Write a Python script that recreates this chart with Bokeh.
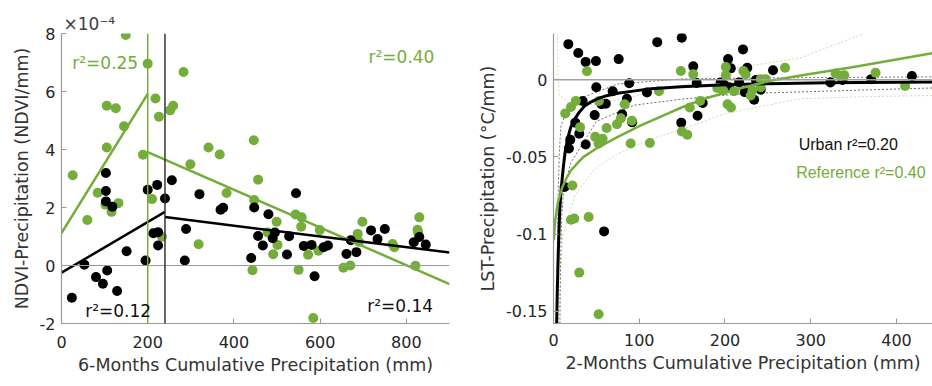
from bokeh.plotting import figure
from bokeh.layouts import row
from bokeh.models import FixedTicker, CustomJSTickFormatter, Span, Label
from bokeh.embed import file_html
from bokeh.resources import INLINE

# ---------------- data: left panel (y in units of 1e-4 NDVI/mm) ----------------
ref6_x = [26, 149, 200, 60, 84, 105, 105, 126, 145, 102, 116, 132, 189, 210, 218, 226,
          252, 259, 283, 299, 233, 318, 341, 367, 383, 446, 456, 447, 443, 478, 499, 501,
          491, 543, 557, 556, 550, 572, 584, 599, 596, 654, 670, 687, 698, 690, 768, 772,
          821, 826, 830, 827]
ref6_y = [3.11, 7.95, 6.96, 1.57, 2.51, 4.07, 5.51, 5.42, 4.80, 2.10, 1.85, 2.15, 3.82, 2.29,
          5.76, 5.13, 5.35, 5.51, 6.67, 3.49, 0.99, 0.73, 4.07, 3.83, 2.50, 4.32, 2.96, 2.26,
          -0.16, 1.14, 1.51, 0.71, 0.39, 1.76, 1.66, 1.34, -0.15, 0.37, -1.81, 1.22, 0.51,
          -0.08, 0.00, 1.09, 1.51, 0.82, 0.74, 0.63, -0.01, 1.23, 1.66, 1.14]
urb6_x = [24, 53, 80, 96, 106, 129, 103, 103, 103, 118, 151, 195, 200, 222, 213, 224, 224,
          240, 256, 289, 286, 320, 369, 375, 447, 440, 456, 467, 480, 490, 495, 523, 528,
          544, 562, 580, 587, 608, 618, 661, 671, 684, 718, 733, 750, 817, 830, 845]
urb6_y = [-1.11, 0.03, -0.40, -0.63, -0.17, -0.88, 3.19, 2.57, 2.21, 2.03, 0.49, 0.17, 2.61,
          2.78, 1.11, 1.15, 0.69, 2.31, 2.94, 1.26, 0.17, 2.46, 1.92, 1.99, 2.00, 0.26, 1.02,
          0.69, 1.77, 0.94, 1.14, 0.38, 1.01, 2.49, 0.67, 0.71, -0.37, 0.63, 0.69, 0.40, 0.87,
          0.46, 1.21, 0.91, 1.26, 0.80, 0.98, 0.72]
# segmented fits (breakpoints)
ref_fit1_x, ref_fit1_y = [0, 200], [1.12, 5.92]
ref_fit2_x, ref_fit2_y = [200, 900], [3.91, -0.64]
urb_fit1_x, urb_fit1_y = [0, 240], [-0.25, 1.85]
urb_fit2_x, urb_fit2_y = [240, 900], [1.67, 0.45]
ref_break, urb_break = 200, 240
left_xticks = [0, 200, 400, 600, 800]
left_yticks = [-2, 0, 2, 4, 6, 8]

# ---------------- data: right panel ----------------
urb2_x = [17.3, 28.9, 37.5, 49.5, 76, 121, 149.6, 49.9, 69, 88.3, 109, 34, 56, 61, 85.6, 48,
          80, 91.8, 25.4, 30, 19.6, 18, 37.5, 13, 59, 149, 163, 221, 203.6, 206.8, 226, 256,
          167, 195, 199, 216.5, 236, 223, 241.7, 234, 205, 174, 168, 323, 337, 370.6, 418]
urb2_y = [0.0231, 0.0174, 0.0116, 0.0121, 0.0134, 0.0244, 0.0273, -0.0049, -0.0074, -0.0023,
          -0.0083, -0.0138, -0.0159, -0.0155, -0.0123, -0.0229, -0.0223, -0.0276, -0.0278,
          -0.0350, -0.0388, -0.0445, -0.0420, -0.0695, -0.0983, -0.0278, 0.0087, 0.0197,
          0.0134, 0.0074, 0.0078, 0.0062, -0.0021, -0.0017, -0.0032, -0.0017, -0.0002,
          -0.0080, -0.0064, -0.0129, -0.0049, -0.0150, -0.0233, -0.0017, -0.0002, 0.0004, 0.0024]
ref2_x = [39, 13.7, 20.4, 26, 53, 83, 123, 31, 62, 74, 78.6, 91.4, 48.7, 57.3, 52.6, 90, 112.4,
          22, 20.4, 24.2, 41, 30, 52.6, 148.5, 149.7, 156, 159, 163, 171, 201, 201, 221.5, 224,
          270, 191, 198, 210.6, 230, 232, 241.7, 241.7, 247.5, 203, 207, 329, 335, 339, 375.6, 410]
ref2_y = [0.0055, -0.0218, -0.0176, -0.0138, -0.0138, -0.0159, -0.0074, -0.0307, -0.0313,
          -0.0288, -0.0250, -0.0265, -0.0370, -0.0383, -0.0413, -0.0413, -0.0410, -0.0685,
          -0.0907, -0.0900, -0.0890, -0.1250, -0.1520, 0.0057, -0.0335, -0.0356, -0.0180,
          0.0036, -0.0138, 0.0083, 0.0030, 0.0057, 0.0036, 0.0078, -0.0053, -0.0070, -0.0074,
          -0.0102, -0.0070, -0.0049, 0.0004, 0.0004, -0.0159, -0.0180, 0.0040, 0.0025, 0.0030,
          0.0046, -0.0040]
# fitted curves
urb_curve_x = [3.7, 4.5, 5.6, 7.0, 8.5, 9.9, 11.4, 13.5, 16.5, 20, 24.2, 30, 36, 44, 51.5, 62,
               75, 95, 113.6, 148.5, 200, 250, 320, 442]
urb_curve_y = [-0.158, -0.135, -0.112, -0.088, -0.074, -0.0655, -0.057, -0.047, -0.038, -0.031,
               -0.026, -0.021, -0.0172, -0.0143, -0.0123, -0.0103, -0.0087, -0.0072, -0.0058,
               -0.0045, -0.0032, -0.0025, -0.0019, -0.0014]
ref_curve_x = [0.3, 2, 5, 10, 15, 20, 28, 35, 50, 75, 100, 135, 150, 175, 215, 253, 290, 350, 442]
ref_curve_y = [-0.104, -0.091, -0.080, -0.070, -0.064, -0.059, -0.054, -0.050, -0.0445, -0.037,
               -0.030, -0.0215, -0.0178, -0.0125, -0.006, -0.0006, 0.003, 0.0083, 0.0172]
# confidence bands (dotted)
urb_up_x = [3.9, 4.5, 5.5, 7, 8.7, 15, 36, 75, 150, 250, 442]
urb_up_y = [-0.158, -0.11, -0.07, -0.045, -0.030, -0.020, -0.011, -0.0027, 0.0005, 0.0012, 0.0019]
urb_lo_x = [7.5, 8.2, 9.5, 12, 20.4, 50, 94, 150, 220, 442]
urb_lo_y = [-0.158, -0.12, -0.09, -0.07, -0.0536, -0.027, -0.0165, -0.0125, -0.009, -0.0053]
ref_up_x = [4.6, 5.2, 6.8, 20.4, 50, 100, 150, 215, 288, 362]
ref_up_y = [0.03, 0.0, -0.010, -0.0165, -0.016, -0.010, -0.004, 0.0078, 0.0142, 0.030]
ref_lo_x = [6, 8, 10.7, 25, 47.6, 74.8, 110, 148.5, 200, 288, 360, 442]
ref_lo_y = [-0.158, -0.125, -0.101, -0.075, -0.058, -0.048, -0.039, -0.0324, -0.022, -0.0123,
            -0.011, -0.0102]
right_xticks = [0, 100, 200, 300, 400]
right_yticks = [-0.15, -0.1, -0.05, 0]

GREEN = "#74AD3A"
BLACK = "#000000"
TXT = "#262626"
AX = "#9a9a9a"
FONT = "DejaVu Sans"


def style(p, xt, yt, xlabel, ylabel, xstand, ystand):
    p.xaxis.ticker = FixedTicker(ticks=xt)
    p.yaxis.ticker = FixedTicker(ticks=yt)
    p.xaxis.axis_label = xlabel
    p.yaxis.axis_label = ylabel
    p.xaxis.major_label_standoff = xstand
    p.yaxis.major_label_standoff = ystand
    p.xaxis.axis_label_standoff = 4
    p.yaxis.axis_label_standoff = 5
    for ax in p.axis:
        ax.formatter = CustomJSTickFormatter(code="return tick.toString();")
        ax.major_tick_in = 5
        ax.major_tick_out = 0
        ax.minor_tick_line_color = None
        ax.axis_line_color = AX
        ax.axis_line_width = 1.2
        ax.major_tick_line_color = AX
        ax.major_label_text_font = FONT
        ax.major_label_text_font_size = "16px"
        ax.major_label_text_color = TXT
        ax.axis_label_text_font = FONT
        ax.axis_label_text_font_size = "17.5px"
        ax.axis_label_text_font_style = "normal"
        ax.axis_label_text_color = "#333333"
    p.grid.visible = False
    p.outline_line_color = None


# ---------------- left figure ----------------
p1 = figure(width=466, height=386, x_range=(0, 900), y_range=(-2, 8),
            output_backend="svg", toolbar_location=None,
            min_border_left=61, min_border_right=17, min_border_top=33, min_border_bottom=60)
style(p1, left_xticks, left_yticks, "6-Months Cumulative Precipitation (mm)",
      "NDVI-Precipitation (NDVI/mm)", 12, 6)
p1.title.text = "×10⁻⁴"
p1.title.align = "left"
p1.title.offset = 2
p1.title.standoff = 0
p1.title.text_font = FONT
p1.title.text_font_size = "17px"
p1.title.text_font_style = "normal"
p1.title.text_color = "#404040"

p1.add_layout(Span(location=0, dimension="width", line_color="#9a9a9a", line_width=1))
p1.add_layout(Span(location=ref_break, dimension="height", line_color=GREEN, line_width=1.5))
p1.add_layout(Span(location=urb_break, dimension="height", line_color="#333333", line_width=1.5))

p1.scatter(ref6_x, ref6_y, size=10, color=GREEN, line_color=None)
p1.scatter(urb6_x, urb6_y, size=10, color=BLACK, line_color=None)
p1.line(ref_fit1_x, ref_fit1_y, line_color=GREEN, line_width=2.5)
p1.line(ref_fit2_x, ref_fit2_y, line_color=GREEN, line_width=2.5)
p1.line(urb_fit1_x, urb_fit1_y, line_color=BLACK, line_width=2.5)
p1.line(urb_fit2_x, urb_fit2_y, line_color=BLACK, line_width=2.5)

for (x, y, t, c, al) in [(25, 6.98, "r²=0.25", GREEN, "left"),
                         (865, 7.18, "r²=0.40", GREEN, "right"),
                         (55, -1.56, "r²=0.12", "#111111", "left"),
                         (862, -1.39, "r²=0.14", "#111111", "right")]:
    p1.add_layout(Label(x=x, y=y, text=t, text_color=c, text_align=al, text_baseline="middle",
                        text_font=FONT, text_font_size="17px"))

# ---------------- right figure ----------------
p2 = figure(width=466, height=386, x_range=(0, 442), y_range=(-0.158, 0.03),
            output_backend="svg", toolbar_location=None,
            min_border_left=87, min_border_right=0, min_border_top=28, min_border_bottom=63)
style(p2, right_xticks, right_yticks, "2-Months Cumulative Precipitation (mm)",
      "LST-Precipitation (°C/mm)", 10, 6)

p2.add_layout(Span(location=0, dimension="width", line_color="#a0a0a0", line_width=1.5))

p2.line(ref_up_x, ref_up_y, line_color="#c9deb1", line_width=1, line_dash="2 2")
p2.line(ref_lo_x, ref_lo_y, line_color="#c9deb1", line_width=1, line_dash="2 2")
p2.line(urb_up_x, urb_up_y, line_color="#707070", line_width=1, line_dash="2 2")
p2.line(urb_lo_x, urb_lo_y, line_color="#707070", line_width=1, line_dash="2 2")

p2.scatter(urb2_x, urb2_y, size=10, color=BLACK, line_color=None)
p2.scatter(ref2_x, ref2_y, size=10, color=GREEN, line_color=None)
p2.line(urb_curve_x, urb_curve_y, line_color=BLACK, line_width=3)
p2.line(ref_curve_x, ref_curve_y, line_color=GREEN, line_width=2.5)

p2.add_layout(Label(x=286, y=-0.042, text="Urban r²=0.20", text_color="#111111",
                    text_align="left", text_baseline="middle",
                    text_font="Liberation Sans", text_font_size="16px"))
p2.add_layout(Label(x=283, y=-0.0598, text="Reference r²=0.40", text_color=GREEN,
                    text_align="left", text_baseline="middle",
                    text_font="Liberation Sans", text_font_size="16px"))

layout = row(p1, p2)
open("out.html", "w").write(file_html(layout, INLINE))
